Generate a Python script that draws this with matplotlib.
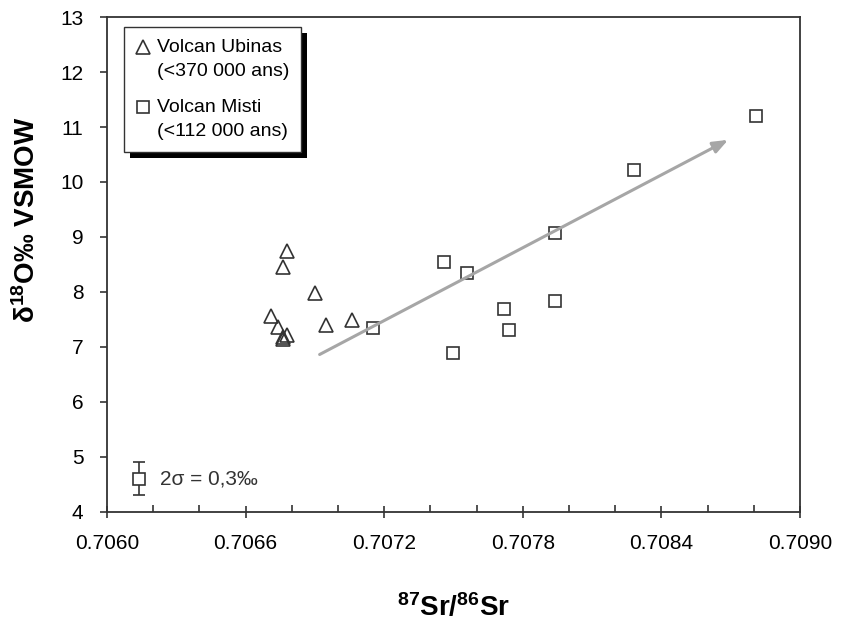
from matplotlib import pyplot as plt
from matplotlib.patches import Rectangle
from matplotlib.ticker import FixedLocator, FormatStrFormatter
from matplotlib.legend_handler import HandlerLine2D

plt.rcParams["font.family"] = ["Liberation Sans", "DejaVu Sans"]
plt.rcParams["mathtext.fontset"] = "custom"
plt.rcParams["mathtext.rm"] = "Liberation Sans"
plt.rcParams["mathtext.bf"] = "Liberation Sans:bold"

# Volcan Ubinas (triangles)
ubinas_sr = [0.70678, 0.70676, 0.70690, 0.70671, 0.70674, 0.70678, 0.70676, 0.70676, 0.70695, 0.70706]
ubinas_o = [8.75, 8.46, 7.98, 7.56, 7.36, 7.22, 7.19, 7.14, 7.40, 7.49]

# Volcan Misti (squares)
misti_sr = [0.70715, 0.70746, 0.70756, 0.70750, 0.70772, 0.70774, 0.70794, 0.70794, 0.70828, 0.70881]
misti_o = [7.34, 8.54, 8.34, 6.89, 7.69, 7.31, 9.07, 7.84, 10.22, 11.20]

# trend arrow (start, end)
arrow_sr = [0.70691, 0.70870]
arrow_o = [6.84, 10.79]

# analytical error example
err_sr = 0.70614
err_o = 4.60
err_2s = 0.30

x_major = [0.7060, 0.7066, 0.7072, 0.7078, 0.7084, 0.7090]
x_minor = [0.7062, 0.7064, 0.7068, 0.7070, 0.7074, 0.7076,
           0.7080, 0.7082, 0.7086, 0.7088]
y_major = [4, 5, 6, 7, 8, 9, 10, 11, 12, 13]

ink = "#333333"


class FirstLineHandler(HandlerLine2D):
    # put the legend marker beside the first line of a two-line label
    def create_artists(self, *args, **kwargs):
        artists = super().create_artists(*args, **kwargs)
        for a in artists:
            a.set_ydata([y + 8.6 for y in a.get_ydata()])
        return artists


fig = plt.figure(figsize=(8.43, 6.23), dpi=100)
ax = fig.add_axes([0.1269, 0.1782, 0.822, 0.7945])

ax.plot(ubinas_sr, ubinas_o, linestyle="none", marker="^", ms=10.5,
        mfc="none", mec=ink, mew=1.2, label="Volcan Ubinas\n(<370 000 ans)")
ax.plot(misti_sr, misti_o, linestyle="none", marker="s", ms=8.5,
        mfc="none", mec=ink, mew=1.2, label="Volcan Misti\n(<112 000 ans)")

ax.annotate("", xy=(arrow_sr[1], arrow_o[1]), xytext=(arrow_sr[0], arrow_o[0]),
            arrowprops=dict(arrowstyle="-|>,head_length=0.9,head_width=0.35",
                            color="#a6a6a6", lw=2.2))

ax.errorbar([err_sr], [err_o], yerr=[err_2s], fmt="s", ms=8, mfc="white",
            mec=ink, mew=1.2, ecolor=ink, elinewidth=1.2, capsize=4.5, capthick=1.2)
ax.text(0.70623, err_o, "2σ = 0,3‰", fontsize=15, color=ink, va="center")

ax.set_xlim(x_major[0], x_major[-1])
ax.set_ylim(y_major[0], y_major[-1])
ax.xaxis.set_major_locator(FixedLocator(x_major))
ax.xaxis.set_minor_locator(FixedLocator(x_minor))
ax.xaxis.set_major_formatter(FormatStrFormatter("%.4f"))
ax.yaxis.set_major_locator(FixedLocator(y_major))

for side in ["left", "right", "top", "bottom"]:
    ax.spines[side].set_color(ink)
    ax.spines[side].set_linewidth(1.3)

ax.tick_params(axis="x", which="major", direction="inout", length=9, width=1.2,
               color=ink, labelsize=15, pad=11)
ax.tick_params(axis="x", which="minor", direction="in", length=5, width=1.2, color=ink)
ax.tick_params(axis="y", which="major", direction="out", length=5, width=1.2,
               color=ink, labelsize=15, pad=12)

ax.set_xlabel("$\\mathbf{^{87}Sr/^{86}Sr}$", fontsize=20, labelpad=29)
ax.set_ylabel("$\\mathbf{\\delta^{18}O}$‰ VSMOW", fontsize=20, fontweight="bold")
ax.yaxis.set_label_coords(-0.095, 0.59)

leg = ax.legend(loc="upper left", bbox_to_anchor=(0.024, 0.98), fontsize=14,
                frameon=True, fancybox=False, edgecolor=ink, facecolor="white",
                framealpha=1, handlelength=0.8, handletextpad=0.3, borderpad=0.6,
                labelspacing=0.98, borderaxespad=0,
                handler_map={plt.Line2D: FirstLineHandler()})
leg.get_frame().set_linewidth(1.0)
leg.set_zorder(6)
for t in leg.get_texts():
    t.set_linespacing(1.55)

# black drop shadow behind the legend box
fig.canvas.draw()
bb = leg.get_window_extent().transformed(ax.transAxes.inverted())
dx = 6 / ax.get_window_extent().width
dy = 6 / ax.get_window_extent().height
ax.add_patch(Rectangle((bb.x0 + dx, bb.y0 - dy), bb.width, bb.height,
                       transform=ax.transAxes, facecolor="black", edgecolor="none",
                       zorder=5.5))

fig.savefig("out.png", dpi=100)
